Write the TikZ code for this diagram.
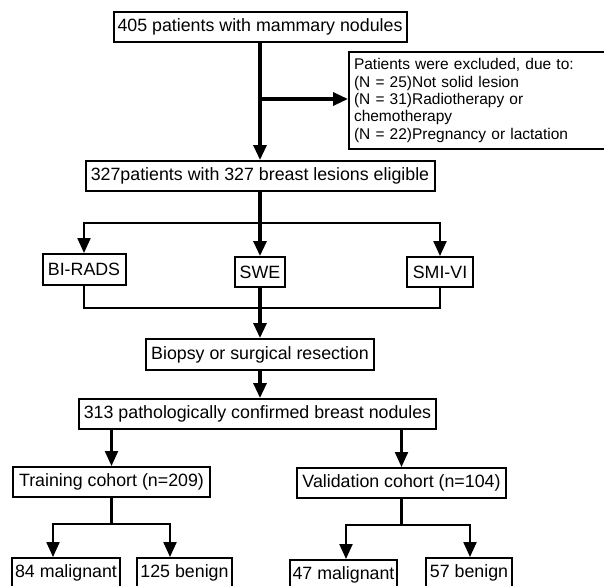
\documentclass[tikz,border=0pt]{standalone}
\usepackage{fontspec}
\setmainfont{Liberation Sans}
\usepackage{tikz}
\usetikzlibrary{arrows.meta,positioning,calc}

\begin{document}
\begin{tikzpicture}[x=0.5pt,y=-0.5pt,
  box/.style={draw, line width=1pt, inner sep=0pt, minimum height=15pt,
    font=\fontsize{8.9}{10}\selectfont},
  arr/.style={-{Triangle[length=7.5pt,width=6.5pt]}},
  link/.style={line width=1.1pt},
  trunk/.style={line width=1.6pt}]
  % Selection of patients and split into cohorts
  \useasboundingbox (0,0) rectangle (604,585);
  \node[box, minimum width=146.5pt] (n405) at (260,27) {405 patients with mammary nodules};
  \node[box, anchor=west, minimum height=48.5pt, inner xsep=2.5pt, text width=135pt,
    align=left, font=\fontsize{7.75}{8.65}\selectfont] (excl) at (348,100.5)
    {Patients were excluded, due to:\\(N = 25)Not solid lesion\\(N = 31)Radiotherapy or\\
     chemotherapy\\(N = 22)Pregnancy or lactation};
  \node[box, minimum width=174.5pt] (n327) at (260,176) {327patients with 327 breast lesions eligible};
  \node[box, minimum width=41.5pt, minimum height=15.5pt] (birads) at (84,269.5) {BI-RADS};
  \node[box, minimum width=25pt] (swe) at (260,272) {SWE};
  \node[box, minimum width=33pt] (smivi) at (440,272) {SMI-VI};
  \node[box, minimum width=114pt, minimum height=15.5pt] (biopsy) at (260,354.5) {Biopsy or surgical resection};
  \node[box, minimum width=178.5pt] (n313) at (257.5,414) {313 pathologically confirmed breast nodules};
  \node[box, minimum width=98.5pt] (train) at (111.5,482) {Training cohort (n=209)};
  \node[box, minimum width=104.5pt] (valid) at (401.5,483) {Validation cohort (n=104)};
  \node[box, minimum width=54pt] (mal84) at (66,573) {84 malignant};
  \node[box, minimum width=47.5pt] (ben125) at (184.5,573) {125 benign};
  \node[box, minimum width=53.5pt] (mal47) at (343.5,575) {47 malignant};
  \node[box, minimum width=43pt] (ben57) at (469,573) {57 benign};

  \coordinate (split) at (260,99);
  \coordinate (fork) at (260,223);
  \coordinate (merge) at (260,308);
  \coordinate (tl) at (53,524);
  \coordinate (tr) at (170,524);
  \coordinate (vl) at (346,525);
  \coordinate (vr) at (470,525);

  \draw[trunk,arr] (n405.south) -- (n327.north);
  \draw[trunk,arr] (split) -- (split -| excl.west);
  \draw[trunk] (n327.south) -- (fork);
  \draw[link,arr] (fork) -- (fork -| birads) -- (birads.north);
  \draw[link,arr] (fork) -- (fork -| smivi) -- (smivi.north);
  \draw[trunk,arr] (fork) -- (swe.north);
  \draw[link] (birads.south) -- (birads.south |- merge) -- (smivi.south |- merge) -- (smivi.south);
  \draw[trunk,arr] (swe.south) -- (biopsy.north);
  \draw[trunk,arr] (biopsy.south) -- (biopsy.south |- n313.north);
  \draw[link,arr] (n313.south -| train) -- (train.north);
  \draw[link,arr] (n313.south -| valid) -- (valid.north);
  \draw[link,arr] (train.south) -- (train.south |- tl) -- (tl) -- (tl |- mal84.north);
  \draw[link,arr] (train.south |- tr) -- (tr) -- (tr |- ben125.north);
  \draw[link,arr] (valid.south) -- (valid.south |- vl) -- (vl) -- (vl |- mal47.north);
  \draw[link,arr] (valid.south |- vr) -- (vr) -- (vr |- ben57.north);
\end{tikzpicture}
\end{document}
